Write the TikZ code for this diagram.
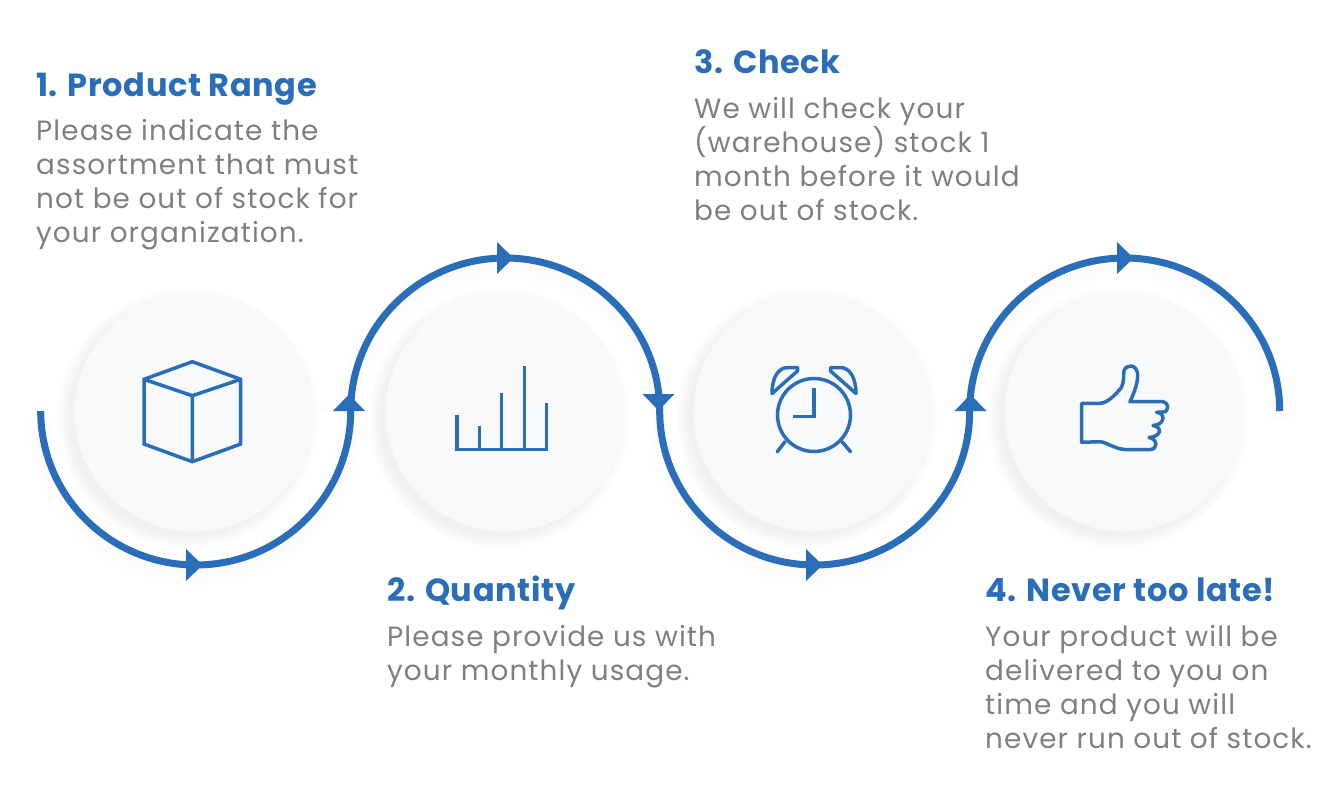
\documentclass[tikz,border=0pt]{standalone}
\usepackage{fontspec}
\setmainfont{Poppins}
\newfontfamily\headfont{Poppins}[LetterSpace=2.0]
\newfontfamily\copyfont{Poppins}[LetterSpace=4]
\definecolor{brandblue}{HTML}{2A6DB8}
\definecolor{bodygrey}{HTML}{808080}
\definecolor{discfill}{HTML}{F8F9FA}
\definecolor{shadowtint}{HTML}{5A6A90}
\tikzset{
  x=1pt,y=-1pt,
  disc/.style={circle,minimum size=239pt,inner sep=0pt,fill=discfill},
  heading/.style={anchor=base west,inner sep=0pt,font=\fontsize{32}{32}\selectfont\headfont\bfseries,text=brandblue},
  bodytext/.style={anchor=north west,inner sep=0pt,align=left,text=bodygrey,font=\fontsize{27.85}{34}\selectfont\copyfont},
  icon/.style={draw=brandblue,line width=3.5pt,line join=miter},
  flow/.style={draw=brandblue,line width=7pt},
  flowshadow/.style={draw=shadowtint,opacity=.005},
  pics/tip/.style={code={\fill[brandblue] (-8,-16) -- (8.5,0) -- (-8,16) -- cycle;}}
}
\begin{document}
\begin{tikzpicture}
\useasboundingbox (0,0) rectangle (1336,793);
\fill[white] (0,0) rectangle (1336,793);
% anchors of the flow
\coordinate (p0) at (40.7,411);
\coordinate (p1) at (350.7,411);
\coordinate (p2) at (659.7,411);
\coordinate (p3) at (969.7,411);
\coordinate (p4) at (1279.7,411);
% disc shadows
\foreach \cx in {194,505,813,1124}{
  \foreach \r in {0,2,...,12}{
    \fill[shadowtint,opacity=.011] (\cx-6,418) circle[radius=120+\r-2];
  }
}
% flow shadows
\foreach \w in {8,14,20,26}{
  \draw[flowshadow,line width=\w pt] ([yshift=-8pt]p0) arc[start angle=180,end angle=0,x radius=155,y radius=154];
  \draw[flowshadow,line width=\w pt] ([yshift=-8pt]p2) arc[start angle=180,end angle=0,x radius=155,y radius=154];
  \draw[flowshadow,line width=\w pt] ([yshift=-8pt]p1) arc[start angle=180,end angle=360,x radius=154.5,y radius=153];
  \draw[flowshadow,line width=\w pt] ([yshift=-8pt]p3) arc[start angle=180,end angle=360,x radius=155,y radius=153];
}
% discs
\node[disc] (c1) at (194,412) {};
\node[disc] (c2) at (505,412) {};
\node[disc] (c3) at (813,412) {};
\node[disc] (c4) at (1124,412) {};
% flow
\draw[flow] (p0) arc[start angle=180,end angle=0,x radius=155,y radius=154];
\draw[flow] (p1) arc[start angle=180,end angle=360,x radius=154.5,y radius=153];
\draw[flow] (p2) arc[start angle=180,end angle=0,x radius=155,y radius=154];
\draw[flow] (p3) arc[start angle=180,end angle=360,x radius=155,y radius=153];
% arrow tips
\pic at (194,565) {tip};
\pic at (505,258) {tip};
\pic at (814,565) {tip};
\pic at (1125,258) {tip};
\pic[rotate=90] at (349,403) {tip};
\pic[rotate=-90] at (658.5,402) {tip};
\pic[rotate=90] at (970.5,403) {tip};
% cube icon
\draw[icon] (192.3,361.7) -- (240.7,379.3) -- (240.7,444) -- (192.3,461.7) -- (144,444) -- (144,379.3) -- cycle;
\draw[icon] (144,379.3) -- (192.3,395.7) -- (240.7,379.3) (192.3,395.7) -- (192.3,461.7);
% bars icon
\draw[icon] (457,415) -- (457,449.5) -- (546.7,449.5) -- (546.7,403.3);
\draw[icon] (479.3,426) -- (479.3,449.5) (501.7,392.7) -- (501.7,449.5) (524.3,366) -- (524.3,449.5);
% clock icon
\draw[icon] (814,415) circle[radius=36.5];
\draw[icon] (814,387.7) -- (814,416.7) -- (793.3,416.7);
\draw[icon,line cap=round] (785,441.7) -- (777.3,451.7) (842,441.7) -- (850.5,451.7);
\draw[icon,line join=round] (797.5,367.5) -- (788,367.5) .. controls (778,367.5) and (772,378) .. (772,393.5) -- (797.5,371) -- cycle;
\draw[icon,line join=round] (830.5,367.5) -- (840,367.5) .. controls (850,367.5) and (856,378) .. (856,393.5) -- (830.5,371) -- cycle;
% thumb icon
\draw[icon,line join=round] (1081.7,403.3) -- (1100,403.3)
  .. controls (1108,403) and (1116,394) .. (1121,388)
  .. controls (1125,380) and (1123,376) .. (1124,371)
  .. controls (1126,364) and (1136,364) .. (1137.5,373)
  .. controls (1138.5,382) and (1134,393) .. (1130,401.7)
  -- (1163,401.7)
  .. controls (1169,402) and (1169.5,412) .. (1163,412)
  -- (1156.5,412.3)
  .. controls (1166,413) and (1165,425) .. (1153,425.5)
  .. controls (1163,427) and (1161,437) .. (1149,437.5)
  .. controls (1158,439) and (1158,449.5) .. (1150,449.5)
  -- (1125,449.5)
  .. controls (1115,449) and (1106,442) .. (1100,441.7)
  -- (1081.7,442.3) -- cycle;
% texts
\node[heading] (h1) at (36,96) {1. Product Range};
\node[bodytext] (b1) at (36,119) {Please indicate the\\assortment that must\\not be out of stock for\\your organization.};
\node[heading] (h2) at (387,601) {2. Quantity};
\node[bodytext] (b2) at (387,625) {Please provide us with\\your monthly usage.};
\node[heading] (h3) at (694,73) {3. Check};
\node[bodytext] (b3) at (694,97) {We will check your\\(warehouse) stock 1\\month before it would\\be out of stock.};
\node[heading] (h4) at (985,601) {4. Never too late!};
\node[bodytext] (b4) at (985,625) {Your product will be\\delivered to you on\\time and you will\\never run out of stock.};
\end{tikzpicture}
\end{document}
